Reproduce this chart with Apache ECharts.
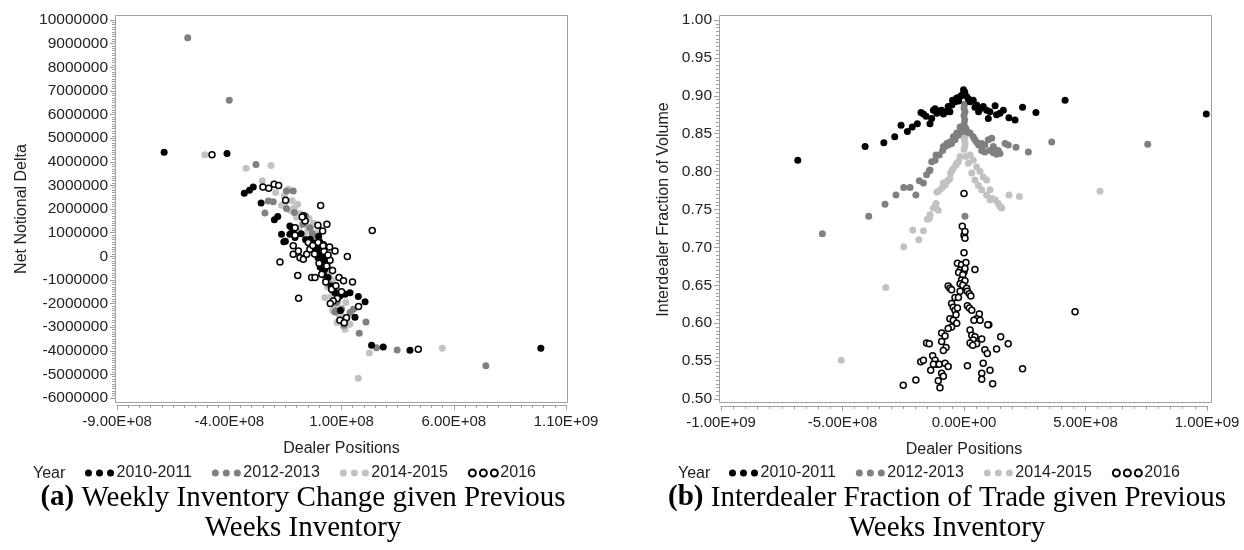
<!DOCTYPE html>
<html>
<head>
<meta charset="utf-8">
<title>Inventory scatter</title>
<script src="https://cdn.jsdelivr.net/npm/echarts@6/dist/echarts.min.js"></script>
<style>
  html, body { margin: 0; padding: 0; background: #fff; }
  #chart { width: 1244px; height: 550px; }
</style>
</head>
<body>
<div id="chart"></div>
<script>
// legend / year groups
const yearGroups = ['2010-2011', '2012-2013', '2014-2015', '2016'];

// axis ranges [min, max, interval]
const invXRange = [-9e8, 1.1e9, 5e8];
const invYRange = [-6e6, 1e7, 1e6];
const fracXRange = [-1e9, 1e9, 5e8];
const fracYRange = [0.5, 1.0, 0.05];

// (a) dealer positions vs net notional delta
const inv1011 = [[-6.9e8,4.4e6],[-4.1e8,4.35e6],[-3.33e8,2.67e6],[-3.1e8,2.79e6],[-2.93e8,2.93e6],[-2.58e8,2.25e6],[-1.99e8,1.54e6],[-1.84e8,1.68e6],[-1.67e8,0.93e6],[-1.57e8,0.61e6],[-1.5e8,0.63e6],[-1.3e8,1.28e6],[-1.22e8,1.21e6],[-1.15e8,1.07e6],[-1.3e8,0.93e6],[-1.07e8,0.79e6],[-0.8e8,0.95e6],[-0.6e8,0.7e6],[-0.4e8,0.72e6],[-0.35e8,0.35e6],[-0.25e8,0.55e6],[-0.15e8,0.2e6],[-0.1e8,0.45e6],[-0.05e8,-0.05e6],[0,0.3e6],[0.03e8,0.6e6],[0.06e8,0.05e6],[0.1e8,-0.2e6],[0.12e8,0.25e6],[0.15e8,-0.4e6],[0.18e8,0.1e6],[0.22e8,-0.15e6],[0.25e8,0.4e6],[0.28e8,-0.35e6],[0.32e8,0.05e6],[0.34e8,-0.41e6],[0.19e8,-0.76e6],[0.16e8,-0.6e6],[0.4e8,-0.9e6],[-0.02e8,0.85e6],[0.08e8,0.4e6],[0.2e8,0.5e6],[0.25e8,-0.55e6],[0.05e8,-0.45e6],[0.3e8,-0.2e6],[0.56e8,-1.26e6],[0.63e8,-1.4e6],[0.71e8,-1.54e6],[0.93e8,-1.68e6],[1.16e8,-1.61e6],[1.38e8,-1.54e6],[1.75e8,-1.7e6],[2.05e8,-1.93e6],[1.6e8,-2.58e6],[0.95e8,-2.3e6],[2.34e8,-3.77e6],[2.86e8,-3.84e6],[4.05e8,-3.98e6],[9.88e8,-3.89e6]];
const inv1213 = [[-5.85e8,9.25e6],[-4.0e8,6.6e6],[-2.81e8,3.88e6],[-2.26e8,2.34e6],[-2.04e8,2.31e6],[-2.41e8,1.83e6],[-1.45e8,2.76e6],[-1.15e8,2.76e6],[-1.45e8,2.02e6],[-1.1e8,1.85e6],[-0.6e8,1.7e6],[-0.41e8,1.21e6],[-0.7e8,1.35e6],[-0.3e8,0.95e6],[-0.15e8,0.75e6],[0,0.55e6],[0.05e8,0.15e6],[0.12e8,-0.3e6],[0.22e8,-0.6e6],[0.3e8,-0.9e6],[0.45e8,-1.2e6],[0.6e8,-1.45e6],[0.71e8,-2.36e6],[0.78e8,-1.96e6],[0.75e8,-2.31e6],[1.0e8,-2.24e6],[1.12e8,-2.92e6],[1.38e8,-2.38e6],[1.53e8,-2.24e6],[2.09e8,-2.78e6],[1.79e8,-3.26e6],[2.56e8,-3.87e6],[3.48e8,-3.97e6],[7.43e8,-4.63e6]];
const inv1415 = [[-5.09e8,4.3e6],[-3.25e8,3.72e6],[-2.14e8,3.84e6],[-2.53e8,3.2e6],[-1.93e8,2.7e6],[-1.36e8,2.84e6],[-1.67e8,2.16e6],[-1.5e8,2.3e6],[-1.55e8,2.55e6],[-1.2e8,2.35e6],[-0.95e8,2.2e6],[-1.3e8,1.95e6],[-1.1e8,2.05e6],[-1.0e8,1.65e6],[-0.85e8,1.8e6],[-0.9e8,1.2e6],[-0.75e8,1.4e6],[-0.65e8,0.9e6],[-0.6e8,1.5e6],[-0.45e8,1.6e6],[-0.5e8,1.1e6],[-0.38e8,1.25e6],[-0.25e8,1.4e6],[-0.3e8,0.85e6],[-0.2e8,1.0e6],[-0.12e8,0.6e6],[0,0.75e6],[0.05e8,1.05e6],[0.02e8,0.3e6],[0.1e8,0.45e6],[0.15e8,0.5e6],[0.12e8,-0.1e6],[0.2e8,0],[0.35e8,-0.1e6],[0.22e8,-0.5e6],[0.3e8,-0.4e6],[0.42e8,-0.45e6],[0.3e8,-0.95e6],[0.4e8,-0.85e6],[0.5e8,-0.7e6],[0.6e8,-1.0e6],[0.38e8,-1.3e6],[0.26e8,-1.75e6],[0.5e8,-1.25e6],[0.75e8,-1.3e6],[0.55e8,-1.7e6],[0.65e8,-1.6e6],[0.95e8,-1.6e6],[0.7e8,-2.05e6],[0.6e8,-2.3e6],[0.85e8,-1.9e6],[0.88e8,-2.45e6],[1.0e8,-2.2e6],[1.05e8,-2.55e6],[0.8e8,-2.8e6],[1.08e8,-2.95e6],[1.2e8,-1.96e6],[1.25e8,-2.6e6],[1.38e8,-2.88e6],[1.16e8,-3.09e6],[2.24e8,-4.1e6],[1.75e8,-5.16e6],[5.49e8,-3.89e6]];
const inv16 = [[-4.77e8,4.3e6],[-2.5e8,2.93e6],[-2.24e8,2.88e6],[-2.0e8,3.05e6],[-1.8e8,3.0e6],[-1.49e8,2.37e6],[0.07e8,2.15e6],[2.37e8,1.09e6],[-0.7e8,1.71e6],[-0.62e8,1.49e6],[-0.75e8,1.66e6],[-0.05e8,1.31e6],[0.35e8,1.35e6],[0.16e8,1.07e6],[-1.07e8,1.21e6],[-1.07e8,0.89e6],[-1.15e8,0.44e6],[-1.15e8,0.08e6],[-0.92e8,0.22e6],[-0.85e8,-0.06e6],[-0.7e8,-0.13e6],[-0.55e8,0.08e6],[-1.74e8,-0.24e6],[-0.95e8,-0.82e6],[-0.91e8,-1.78e6],[-0.33e8,-0.9e6],[-0.18e8,-0.9e6],[-0.48e8,0.58e6],[-0.41e8,0.3e6],[-0.04e8,0.58e6],[0.18e8,0.44e6],[0.47e8,0.39e6],[0.71e8,0.22e6],[1.26e8,-0.01e6],[0.49e8,-0.17e6],[0.34e8,-0.41e6],[0.12e8,-0.76e6],[-0.2e8,0.1e6],[0,-0.3e6],[0.22e8,0.2e6],[0.4e8,0.05e6],[-0.28e8,0.45e6],[0.6e8,-0.6e6],[0.3e8,-1.09e6],[0.89e8,-0.9e6],[1.09e8,-1.04e6],[1.49e8,-1.09e6],[0.56e8,-1.4e6],[0.75e8,-1.25e6],[1.0e8,-1.5e6],[0.81e8,-1.79e6],[0.63e8,-1.89e6],[0.5e8,-2.0e6],[1.76e8,-2.13e6],[1.22e8,-2.6e6],[0.93e8,-2.71e6],[1.12e8,-2.81e6],[4.42e8,-3.94e6]];

// (b) dealer positions vs interdealer fraction of volume
const frac1011 = [[-6.84e8,0.815],[-4.07e8,0.833],[-3.3e8,0.838],[-2.85e8,0.846],[-2.59e8,0.861],[-2.33e8,0.853],[-2.13e8,0.859],[-1.92e8,0.863],[-1.77e8,0.878],[-1.67e8,0.876],[-1.56e8,0.873],[-1.4e8,0.863],[-1.33e8,0.870],[-1.26e8,0.881],[-1.19e8,0.883],[-1.12e8,0.877],[-1.05e8,0.880],[-0.92e8,0.881],[-0.85e8,0.876],[-0.71e8,0.879],[-0.65e8,0.886],[-0.58e8,0.879],[-0.5e8,0.888],[-0.47e8,0.894],[-0.37e8,0.892],[-0.3e8,0.897],[-0.22e8,0.893],[-0.16e8,0.899],[-0.08e8,0.901],[-0.02e8,0.908],[0,0.903],[0.03e8,0.905],[0.11e8,0.899],[0.18e8,0.896],[0.25e8,0.892],[0.38e8,0.894],[0.45e8,0.885],[0.52e8,0.888],[0.6e8,0.879],[0.66e8,0.883],[0.79e8,0.886],[0.93e8,0.881],[1.0e8,0.870],[1.07e8,0.879],[1.28e8,0.887],[1.34e8,0.875],[1.48e8,0.877],[1.62e8,0.881],[1.85e8,0.871],[2.1e8,0.868],[2.41e8,0.885],[2.96e8,0.878],[4.16e8,0.894],[9.97e8,0.876]];
const frac1213 = [[-5.83e8,0.718],[-3.92e8,0.741],[-3.25e8,0.757],[-2.8e8,0.769],[-2.48e8,0.779],[-2.22e8,0.779],[-1.98e8,0.769],[-1.84e8,0.788],[-1.67e8,0.785],[-1.54e8,0.796],[-1.43e8,0.801],[-1.4e8,0.802],[-1.33e8,0.813],[-1.19e8,0.815],[-1.15e8,0.822],[-1.02e8,0.822],[-0.88e8,0.828],[-0.85e8,0.833],[-0.78e8,0.833],[-0.71e8,0.837],[-0.65e8,0.835],[-0.58e8,0.839],[-0.51e8,0.837],[-0.44e8,0.846],[-0.37e8,0.842],[-0.3e8,0.851],[-0.23e8,0.848],[-0.16e8,0.859],[-0.08e8,0.855],[0,0.853],[0,0.862],[0.03e8,0.868],[0,0.874],[0.04e8,0.879],[0,0.884],[0.02e8,0.889],[0.08e8,0.857],[0.16e8,0.852],[0.25e8,0.851],[0.38e8,0.846],[0.45e8,0.842],[0.52e8,0.839],[0.6e8,0.835],[0.66e8,0.835],[0.73e8,0.828],[0.73e8,0.837],[0.86e8,0.826],[0.86e8,0.835],[1.0e8,0.842],[1.07e8,0.828],[1.14e8,0.844],[1.21e8,0.825],[1.21e8,0.833],[1.34e8,0.823],[1.41e8,0.828],[1.48e8,0.824],[1.69e8,0.837],[1.82e8,0.835],[2.14e8,0.832],[2.65e8,0.826],[3.61e8,0.839],[7.56e8,0.836],[0.04e8,0.741]];
const frac1415 = [[-5.05e8,0.551],[-3.22e8,0.647],[-2.48e8,0.701],[-2.11e8,0.723],[-1.86e8,0.710],[-1.67e8,0.722],[-1.51e8,0.737],[-1.43e8,0.738],[-1.4e8,0.743],[-1.26e8,0.752],[-1.19e8,0.754],[-1.15e8,0.758],[-1.06e8,0.749],[-1.12e8,0.773],[-1.06e8,0.774],[-0.92e8,0.778],[-0.85e8,0.785],[-0.78e8,0.782],[-0.71e8,0.787],[-0.64e8,0.789],[-0.58e8,0.791],[-0.55e8,0.798],[-0.48e8,0.802],[-0.44e8,0.804],[-0.33e8,0.809],[-0.3e8,0.811],[-0.23e8,0.813],[-0.16e8,0.820],[0,0.829],[0.03e8,0.833],[0.04e8,0.837],[0.02e8,0.842],[0.06e8,0.848],[0.01e8,0.851],[0.04e8,0.859],[0.08e8,0.820],[0.18e8,0.811],[0.25e8,0.822],[0.32e8,0.798],[0.38e8,0.815],[0.45e8,0.789],[0.52e8,0.806],[0.59e8,0.782],[0.66e8,0.800],[0.73e8,0.776],[0.79e8,0.793],[0.93e8,0.769],[0.93e8,0.789],[1.07e8,0.763],[1.07e8,0.776],[1.14e8,0.765],[1.28e8,0.763],[1.41e8,0.758],[1.48e8,0.754],[1.55e8,0.752],[1.85e8,0.769],[2.28e8,0.767],[5.6e8,0.774]];
const frac16 = [[-0.07e8,0.728],[0,0.716],[0.04e8,0.721],[0.04e8,0.712],[0,0.771],[0,0.693],[-0.27e8,0.679],[-0.1e8,0.677],[0.08e8,0.680],[-0.16e8,0.670],[0,0.668],[0.04e8,0.672],[-0.22e8,0.667],[-0.05e8,0.664],[0.45e8,0.671],[-0.1e8,0.657],[0.04e8,0.656],[-0.16e8,0.652],[-0.05e8,0.650],[0.11e8,0.646],[-0.65e8,0.649],[-0.58e8,0.646],[-0.51e8,0.644],[-0.16e8,0.642],[0.14e8,0.642],[0.22e8,0.639],[0.28e8,0.636],[-0.37e8,0.634],[-0.23e8,0.634],[-0.51e8,0.626],[-0.44e8,0.621],[-0.37e8,0.617],[-0.27e8,0.620],[0.14e8,0.623],[0.22e8,0.620],[0.32e8,0.617],[0.63e8,0.612],[0.52e8,0.606],[0.41e8,0.604],[0.66e8,0.604],[1.02e8,0.598],[-0.58e8,0.606],[-0.44e8,0.604],[-0.3e8,0.600],[-0.33e8,0.611],[-0.51e8,0.595],[-0.65e8,0.593],[0.25e8,0.591],[0.32e8,0.584],[0.45e8,0.582],[0.38e8,0.578],[0.52e8,0.573],[0.25e8,0.574],[0.36e8,0.571],[0.73e8,0.579],[-0.92e8,0.587],[-0.78e8,0.583],[-0.92e8,0.576],[-0.74e8,0.568],[-0.85e8,0.564],[-1.54e8,0.574],[-1.43e8,0.573],[-1.29e8,0.557],[-1.19e8,0.551],[-1.12e8,0.546],[-1.26e8,0.546],[-1.02e8,0.546],[-0.78e8,0.547],[-0.65e8,0.543],[-1.78e8,0.549],[-1.67e8,0.551],[-1.37e8,0.538],[-0.92e8,0.534],[-0.85e8,0.530],[-1.06e8,0.524],[-0.99e8,0.515],[-1.98e8,0.525],[-2.5e8,0.518],[0.14e8,0.544],[0.86e8,0.565],[0.96e8,0.560],[1.34e8,0.566],[1.51e8,0.582],[1.82e8,0.573],[0.79e8,0.547],[1.07e8,0.538],[0.73e8,0.534],[0.73e8,0.526],[1.18e8,0.520],[4.57e8,0.615],[2.41e8,0.540],[0.98e8,0.598]];

const SANS = '"Liberation Sans", Arial, sans-serif';
const SERIF = '"Liberation Serif", "Times New Roman", serif';
const AXIS_GREY = '#9ea2a6';
const TEXT = '#222';

// colours per year group
const groupStyle = {
  '2010-2011': { color: '#000000', size: 7 },
  '2012-2013': { color: '#808080', size: 7 },
  '2014-2015': { color: '#c2c2c2', size: 7 },
  '2016': { color: '#ffffff', borderColor: '#000000', borderWidth: 1.5, size: 6 }
};

// SAS style E notation: -9.00E+08
function sci(v) {
  const parts = v.toExponential(2).split('e');
  const sign = parts[1][0];
  return parts[0] + 'E' + sign + parts[1].slice(1).padStart(2, '0');
}

function valueAxis(gridIndex, range, extra) {
  return Object.assign({
    type: 'value',
    gridIndex: gridIndex,
    min: range[0],
    max: range[1],
    interval: range[2],
    axisLine: { show: true, onZero: false, lineStyle: { color: AXIS_GREY, width: 1 } },
    axisTick: { show: true, length: 5, lineStyle: { color: AXIS_GREY } },
    minorTick: { show: true, splitNumber: 10, length: 3, lineStyle: { color: AXIS_GREY } },
    splitLine: { show: false },
    nameTextStyle: { color: TEXT, fontSize: 16, fontFamily: SANS }
  }, extra);
}

const xLabel = { color: TEXT, fontSize: 15, fontFamily: SANS, margin: 9, formatter: sci };

function scatter(name, data, xi, yi) {
  const st = groupStyle[name];
  return {
    type: 'scatter',
    name: name,
    data: data,
    xAxisIndex: xi,
    yAxisIndex: yi,
    symbol: 'circle',
    symbolSize: st.size,
    itemStyle: {
      color: st.color,
      borderColor: st.borderColor || st.color,
      borderWidth: st.borderWidth || 0,
      opacity: 1
    },
    emphasis: { disabled: true }
  };
}

// three dots legend icon
const dotsIcon = 'path://M0,3.5a3.5,3.5 0 1,0 7,0a3.5,3.5 0 1,0 -7,0zM11,3.5a3.5,3.5 0 1,0 7,0a3.5,3.5 0 1,0 -7,0zM22,3.5a3.5,3.5 0 1,0 7,0a3.5,3.5 0 1,0 -7,0z';

function legendAt(left) {
  return {
    left: left,
    top: 465,
    padding: 0,
    orient: 'horizontal',
    icon: dotsIcon,
    itemWidth: 30,
    itemHeight: 7,
    itemGap: 20,
    selectedMode: false,
    data: yearGroups,
    textStyle: { color: TEXT, fontSize: 16, fontFamily: SANS, padding: [0, 0, 0, -3] }
  };
}

function caption(cx, label, line1, line2) {
  return {
    type: 'text',
    x: cx,
    y: 483,
    style: {
      text: '{b|' + label + '}{n| ' + line1 + '}\n{n|' + line2 + '}',
      align: 'center',
      verticalAlign: 'top',
      fill: '#000',
      rich: {
        b: { fontFamily: SERIF, fontSize: 29, fontWeight: 'bold', lineHeight: 30, fill: '#000' },
        n: { fontFamily: SERIF, fontSize: 29, lineHeight: 30, fill: '#000' }
      }
    }
  };
}

function frame(x, y, w, h) {
  return {
    type: 'rect',
    z: -1,
    shape: { x: x + 0.5, y: y + 0.5, width: w, height: h },
    style: { fill: 'none', stroke: AXIS_GREY, lineWidth: 1 }
  };
}

const chart = echarts.init(document.getElementById('chart'), null, { renderer: 'canvas' });

chart.setOption({
  animation: false,
  backgroundColor: '#fff',
  grid: [
    { left: 117, top: 20, width: 449, height: 378 },
    { left: 721, top: 20, width: 486, height: 379 }
  ],
  xAxis: [
    valueAxis(0, invXRange, {
      offset: 7,
      name: 'Dealer Positions', nameLocation: 'middle', nameGap: 36,
      axisLabel: xLabel
    }),
    valueAxis(1, fracXRange, {
      offset: 7,
      name: 'Dealer Positions', nameLocation: 'middle', nameGap: 36,
      axisLabel: xLabel
    })
  ],
  yAxis: [
    valueAxis(0, invYRange, {
      offset: 2,
      name: 'Net Notional Delta', nameLocation: 'middle', nameGap: 85,
      axisLabel: { color: TEXT, fontSize: 15.5, fontFamily: SANS, margin: 7, formatter: v => String(Math.round(v)) }
    }),
    valueAxis(1, fracYRange, {
      offset: 2,
      name: 'Interdealer Fraction of Volume', nameLocation: 'middle', nameGap: 47,
      axisLabel: { color: TEXT, fontSize: 15.5, fontFamily: SANS, margin: 7, formatter: v => v.toFixed(2) }
    })
  ],
  legend: [legendAt(85), legendAt(729)],
  graphic: [
    frame(115, 15, 452, 387),
    frame(719, 15, 492, 387),
    { type: 'text', x: 33, y: 474, style: { text: 'Year', font: '16px ' + SANS, fill: TEXT, verticalAlign: 'middle' } },
    { type: 'text', x: 678, y: 474, style: { text: 'Year', font: '16px ' + SANS, fill: TEXT, verticalAlign: 'middle' } },
    caption(303, '(a)', 'Weekly Inventory Change given Previous', 'Weeks Inventory'),
    caption(947, '(b)', 'Interdealer Fraction of Trade given Previous', 'Weeks Inventory')
  ],
  // drawing order: light grey under the darker groups, open circles on top
  series: [
    scatter('2014-2015', inv1415, 0, 0),
    scatter('2012-2013', inv1213, 0, 0),
    scatter('2010-2011', inv1011, 0, 0),
    scatter('2016', inv16, 0, 0),
    scatter('2014-2015', frac1415, 1, 1),
    scatter('2012-2013', frac1213, 1, 1),
    scatter('2010-2011', frac1011, 1, 1),
    scatter('2016', frac16, 1, 1)
  ]
});

window.addEventListener('resize', () => chart.resize());
</script>
</body>
</html>
